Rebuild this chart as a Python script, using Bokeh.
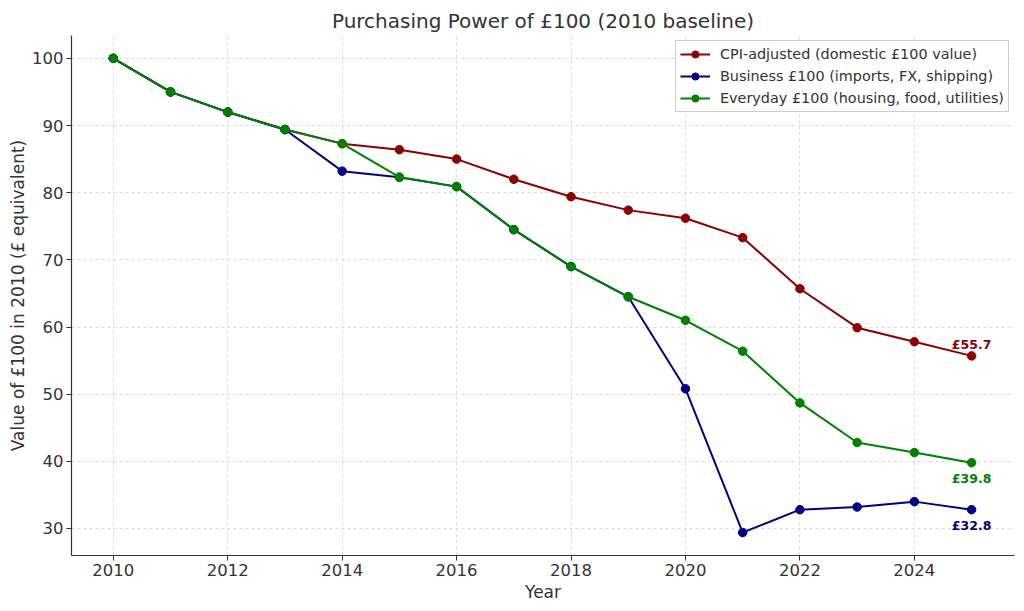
from bokeh.plotting import figure
from bokeh.models import ColumnDataSource, Legend, LegendItem, Range1d, FixedTicker
from bokeh.core.properties import value
from bokeh.embed import file_html
from bokeh.resources import INLINE

years = [2010, 2011, 2012, 2013, 2014, 2015, 2016, 2017, 2018, 2019, 2020, 2021, 2022, 2023, 2024, 2025]
cpi = [100.0, 95.0, 92.0, 89.4, 87.3, 86.4, 85.0, 82.0, 79.4, 77.4, 76.2, 73.3, 65.7, 59.9, 57.8, 55.7]
business = [100.0, 95.0, 92.0, 89.4, 83.2, 82.3, 80.9, 74.5, 69.0, 64.5, 50.8, 29.4, 32.8, 33.2, 34.0, 32.8]
everyday = [100.0, 95.0, 92.0, 89.4, 87.3, 82.3, 80.9, 74.5, 69.0, 64.5, 61.0, 56.4, 48.7, 42.8, 41.3, 39.8]

names = ["CPI-adjusted (domestic £100 value)",
         "Business £100 (imports, FX, shipping)",
         "Everyday £100 (housing, food, utilities)"]
colors = ["#8B0000", "#000080", "#008000"]
series = [cpi, business, everyday]
label_offsets = [-11, 16, 16]

FONT = "DejaVu Sans"

p = figure(frame_width=943, frame_height=520, output_backend="svg", toolbar_location=None,
           x_range=Range1d(2009.27, 2025.75), y_range=Range1d(25.98, 103.4),
           min_border_left=71, min_border_right=1, min_border_top=35, min_border_bottom=46)

p.title.text = "Purchasing Power of £100 (2010 baseline)"
p.title.align = "center"
p.title.text_font = FONT
p.title.text_font_size = "20px"
p.title.text_font_style = "normal"
p.title.text_color = "#333333"
p.title.standoff = 6

p.outline_line_color = None
p.background_fill_color = "white"
p.border_fill_color = "white"

for ax in (p.xaxis, p.yaxis):
    ax.axis_line_color = "#333333"
    ax.axis_line_width = 1.2
    ax.major_tick_line_color = "#333333"
    ax.major_tick_out = 5
    ax.major_tick_in = 0
    ax.minor_tick_line_color = None
    ax.major_label_text_font = FONT
    ax.major_label_text_font_size = "16.5px"
    ax.major_label_text_color = "#333333"
    ax.major_label_standoff = 3
    ax.axis_label_text_font = FONT
    ax.axis_label_text_font_size = "17px"
    ax.axis_label_text_font_style = "normal"
    ax.axis_label_text_color = "#333333"

p.xaxis.axis_label = "Year"
p.yaxis.axis_label = "Value of £100 in 2010 (£ equivalent)"
p.xaxis.ticker = FixedTicker(ticks=[2010, 2012, 2014, 2016, 2018, 2020, 2022, 2024])
p.yaxis.ticker = FixedTicker(ticks=[30, 40, 50, 60, 70, 80, 90, 100])
p.xaxis.axis_label_standoff = 3
p.yaxis.axis_label_standoff = 1

for g in (p.xgrid, p.ygrid):
    g.grid_line_color = "#d0d0d0"
    g.grid_line_dash = "3 3"
    g.grid_line_width = 0.8

items = []
for name, col, vals in zip(names, colors, series):
    src = ColumnDataSource(dict(x=years, y=vals))
    ln = p.line("x", "y", source=src, line_color=col, line_width=2)
    sc = p.scatter("x", "y", source=src, size=8.5, fill_color=col, line_color=col)
    items.append(LegendItem(label=name, renderers=[ln, sc]))

for col, vals, off in zip(colors, series, label_offsets):
    lsrc = ColumnDataSource(dict(x=[years[-1]], y=[vals[-1]], t=[f"£{vals[-1]:.1f}"]))
    p.text("x", "y", text="t", source=lsrc, text_color=col, text_font=value(FONT),
           text_font_size="12.5px", text_font_style="bold", text_align="center",
           text_baseline="middle", y_offset=off)

legend = Legend(items=items, location="top_right")
legend.label_text_font = FONT
legend.label_text_font_size = "14.4px"
legend.label_text_color = "#333333"
legend.border_line_color = "#cccccc"
legend.border_line_alpha = 1
legend.background_fill_alpha = 0.9
legend.glyph_width = 30
legend.glyph_height = 18
legend.spacing = 4
legend.padding = 4
legend.margin = 5
legend.label_standoff = 10
legend.label_height = 18
p.add_layout(legend)

open("out.html", "w").write(file_html(p, INLINE))
